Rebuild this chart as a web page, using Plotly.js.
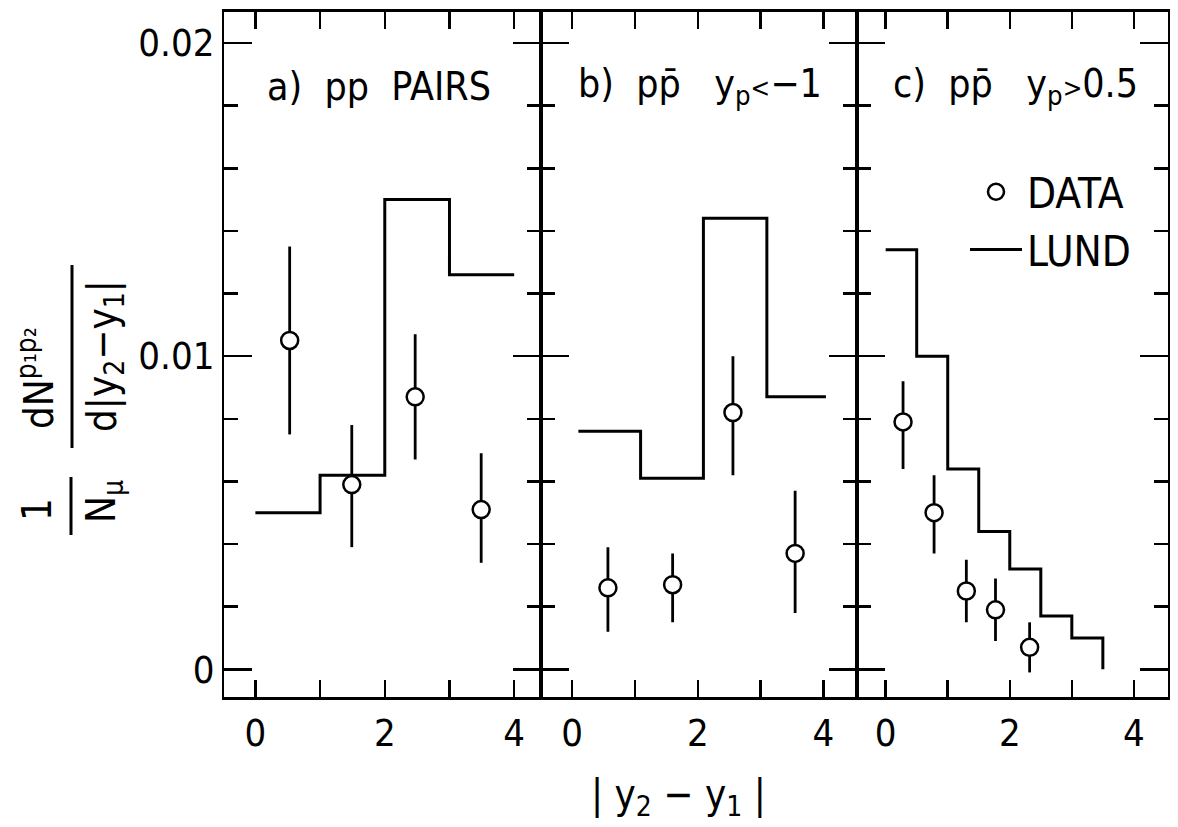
<!DOCTYPE html>
<html>
<head>
<meta charset="utf-8">
<script src="https://cdn.plot.ly/plotly-3.0.1.min.js"></script>
<style>html,body{margin:0;padding:0;background:#fff;}#chart{width:1178px;height:827px;}</style>
</head>
<body>
<div id="chart"></div>
<script>
// ---------- data ----------
// panel a) pp PAIRS
const dataA_x = [0.53, 1.49, 2.47, 3.49];
const dataA_y = [0.0105, 0.0059, 0.0087, 0.0051];
const dataA_errUp = [0.0030, 0.0019, 0.0020, 0.0018];
const dataA_errDn = [0.0030, 0.0020, 0.0020, 0.0017];
const lundA_edges = [0, 1, 2, 3, 4];
const lundA_vals = [0.0050, 0.0062, 0.0150, 0.0126];
const lundA_tail = 0.0126;

// panel b) p pbar, y_p < -1
const dataB_x = [0.57, 1.60, 2.56, 3.55];
const dataB_y = [0.0026, 0.0027, 0.0082, 0.0037];
const dataB_errUp = [0.0013, 0.0010, 0.0018, 0.0020];
const dataB_errDn = [0.0014, 0.0012, 0.0020, 0.0019];
const lundB_edges = [0.1, 1.09, 2.09, 3.1, 4.04];
const lundB_vals = [0.0076, 0.0061, 0.0144, 0.0087];
const lundB_tail = 0.0087;

// panel c) p pbar, y_p > 0.5
const dataC_x = [0.28, 0.78, 1.30, 1.77, 2.32];
const dataC_y = [0.0079, 0.0050, 0.0025, 0.0019, 0.0007];
const dataC_errUp = [0.0013, 0.0012, 0.0010, 0.0010, 0.0008];
const dataC_errDn = [0.0015, 0.0013, 0.0010, 0.0010, 0.0008];
const lundC_edges = [0, 0.5, 1, 1.5, 2, 2.5, 3, 3.5];
const lundC_vals = [0.0134, 0.0100, 0.0064, 0.0044, 0.0032, 0.0017, 0.0010];
const lundC_tail = 0;

const xTickVals = [0, 1, 2, 3, 4];
const xTickText = ['0', '', '2', '', '4'];
const panelLabels = [
  'a)  pp  PAIRS',
  'b)  pp\u0304   y<sub>p</sub><span style="font-size:26px">&lt;</span>\u22121',
  'c)  pp\u0304   y<sub>p</sub><span style="font-size:26px">&gt;</span>0.5'
];

// ---------- layout helpers ----------
const F = "'DejaVu Sans Condensed', 'DejaVu Sans', sans-serif";
const L = 224, T = 12, PW = 944, PH = 685;
const px = X => (X - L) / PW;
const py = Y => (T + PH - Y) / PH;

function dataTrace(xs, ys, up, dn, xa, ya, show) {
  return {
    type: 'scatter', mode: 'markers', x: xs, y: ys, xaxis: xa, yaxis: ya,
    name: 'DATA', showlegend: show, legendrank: 1, legendgroup: 'd',
    marker: {symbol: 'circle', size: 17, color: 'white', line: {color: 'black', width: 2.5}},
    error_y: {type: 'data', symmetric: false, array: up, arrayminus: dn, width: 0, thickness: 2.8, color: 'black'},
    cliponaxis: false
  };
}
function lundTrace(edges, vals, tail, xa, ya, show) {
  return {
    type: 'scatter', mode: 'lines', x: edges, y: vals.concat([tail]), xaxis: xa, yaxis: ya,
    name: 'LUND', showlegend: show, legendrank: 2, legendgroup: 'l',
    line: {shape: 'hv', color: 'black', width: 3}
  };
}

const traces = [
  lundTrace(lundA_edges, lundA_vals, lundA_tail, 'x', 'y', false),
  dataTrace(dataA_x, dataA_y, dataA_errUp, dataA_errDn, 'x', 'y', false),
  lundTrace(lundB_edges, lundB_vals, lundB_tail, 'x2', 'y2', false),
  dataTrace(dataB_x, dataB_y, dataB_errUp, dataB_errDn, 'x2', 'y2', false),
  lundTrace(lundC_edges, lundC_vals, lundC_tail, 'x3', 'y3', true),
  dataTrace(dataC_x, dataC_y, dataC_errUp, dataC_errDn, 'x3', 'y3', true)
];

function xAxis(domain, range, anchor) {
  return {
    domain: domain, range: range, anchor: anchor,
    showline: true, linewidth: 3, linecolor: 'black', mirror: 'ticks',
    ticks: 'inside', ticklen: 17, tickwidth: 2.5, tickcolor: 'black',
    tickvals: xTickVals, ticktext: xTickText,
    tickfont: {family: F, size: 38, color: 'black'},
    showgrid: false, zeroline: false, fixedrange: true
  };
}
function yAxis(anchor, labels) {
  return {
    anchor: anchor, range: [-0.000885, 0.02099],
    tick0: 0, dtick: 0.01,
    showline: true, linewidth: 2, linecolor: 'black', mirror: 'ticks',
    ticks: 'inside', ticklen: 28, tickwidth: 2.5, tickcolor: 'black',
    minor: {dtick: 0.002, tick0: 0, ticks: 'inside', ticklen: 14, tickwidth: 2.5, tickcolor: 'black', showgrid: false},
    showticklabels: labels, tickfont: {family: F, size: 38, color: 'black'},
    showgrid: false, zeroline: false, fixedrange: true
  };
}

const dA = [0, px(540.7)], dB = [px(540.7), px(856.7)], dC = [px(856.7), 1];

const annotations = [];
const labelX = [265, 576, 891];
panelLabels.forEach((t, i) => annotations.push({
  xref: 'paper', yref: 'paper', x: px(labelX[i]), y: py(86), xanchor: 'left', yanchor: 'middle',
  text: t, showarrow: false, font: {family: F, size: 39, color: 'black'}
}));
// y-axis title pieces (rotated fractions)
const ytitle = [
  {t: '1', X: 37, Y: 510},
  {t: 'N<sub>\u03bc</sub>', X: 104, Y: 502},
  {t: 'dN<sup>p\u2081p\u2082</sup>', X: 36, Y: 378},
  {t: 'd|y<sub>2</sub>\u2212y<sub>1</sub>|', X: 105, Y: 356}
];
ytitle.forEach(o => annotations.push({
  xref: 'paper', yref: 'paper', x: px(o.X), y: py(o.Y), xanchor: 'center', yanchor: 'middle',
  text: o.t, textangle: -90, showarrow: false, font: {family: F, size: 40, color: 'black'}
}));
// x-axis title
annotations.push({
  xref: 'paper', yref: 'paper', x: px(678), y: py(797), xanchor: 'center', yanchor: 'middle',
  text: '| y<sub>2</sub> \u2212 y<sub>1</sub> |', showarrow: false, font: {family: F, size: 40, color: 'black'}
});

const shapes = [
  {type: 'line', xref: 'paper', yref: 'paper', x0: px(71), x1: px(71), y0: py(477), y1: py(535), line: {color: 'black', width: 3}},
  {type: 'line', xref: 'paper', yref: 'paper', x0: px(72), x1: px(72), y0: py(265), y1: py(448), line: {color: 'black', width: 3}}
];

const layout = {
  width: 1178, height: 827,
  margin: {l: L, r: 1178 - L - PW, t: T, b: 827 - T - PH, pad: 0},
  paper_bgcolor: 'white', plot_bgcolor: 'white',
  font: {family: F, color: 'black'},
  xaxis: xAxis(dA, [-0.485, 4.41], 'y'),
  xaxis2: xAxis(dB, [-0.50, 4.53], 'y2'),
  xaxis3: xAxis(dC, [-0.467, 4.55], 'y3'),
  yaxis: yAxis('x', true),
  yaxis2: yAxis('x2', false),
  yaxis3: yAxis('x3', false),
  showlegend: true,
  legend: {
    x: px(965), y: py(158), xanchor: 'left', yanchor: 'top',
    bgcolor: 'rgba(0,0,0,0)', borderwidth: 0,
    font: {family: F, size: 42, color: 'black'},
    itemwidth: 52, tracegroupgap: 12, traceorder: 'normal'
  },
  annotations: annotations,
  shapes: shapes
};

Plotly.newPlot('chart', traces, layout, {staticPlot: true, displayModeBar: false});
</script>
</body>
</html>
